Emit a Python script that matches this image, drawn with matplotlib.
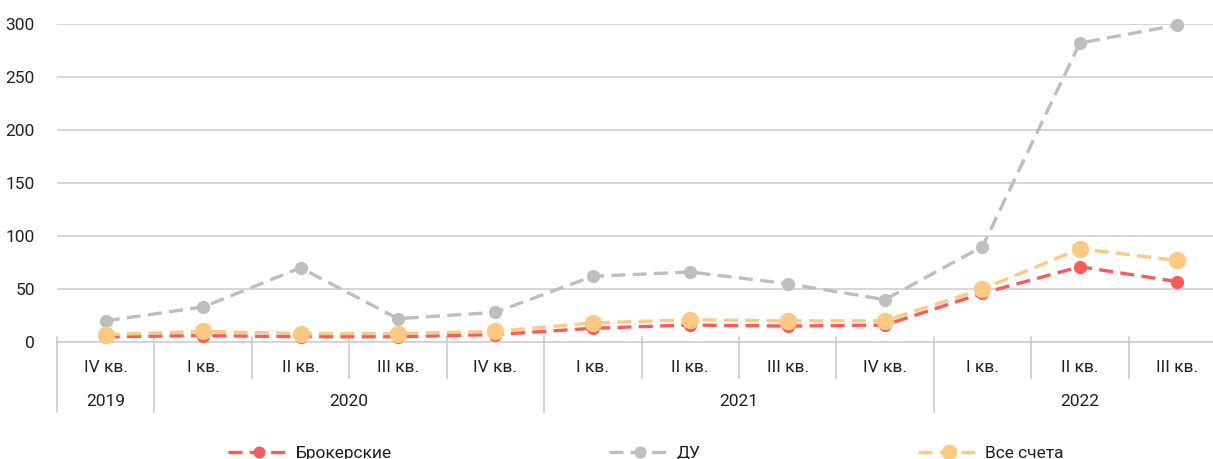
import matplotlib
matplotlib.use("Agg")
import matplotlib.pyplot as plt
from matplotlib import font_manager
from matplotlib.lines import Line2D

names = {f.name for f in font_manager.fontManager.ttflist}
fam = "Liberation Sans Narrow" if "Liberation Sans Narrow" in names else "Roboto"
plt.rcParams['font.family'] = [fam, 'DejaVu Sans']

quarters = ["IV кв.", "I кв.", "II кв.", "III кв.", "IV кв.",
            "I кв.", "II кв.", "III кв.", "IV кв.",
            "I кв.", "II кв.", "III кв."]
years = ["2019", "2020", "2021", "2022"]
year_counts = [1, 4, 4, 3]

broker = [5, 6, 5, 5, 7, 13, 16, 15, 16, 46, 71, 57]
du = [20, 33, 70, 22, 28, 62, 66, 55, 40, 90, 282, 299]
total = [7, 10, 8, 8, 10, 18, 21, 20, 20, 50, 88, 77]

series_names = ["Брокерские", "ДУ", "Все счета"]
colors = ["#FF5A5A", "#BEBEBE", "#FFC982"]

W, H = 1213, 459
fig = plt.figure(figsize=(W/100, H/100), dpi=100)
ax = fig.add_axes([57/W, (H-342)/H, (1226-57)/W, 318/H])

x = list(range(len(quarters)))
handles = []
for vals, name, c, ms in zip([broker, du, total], series_names, colors, [8.5, 8.5, 11.5]):
    l, = ax.plot(x, vals, color=c, lw=2.4, dashes=(4.2, 2.2), marker='o', ms=ms,
                 mec=c, mfc=c, clip_on=False, label=name, zorder=3)
    handles.append(l)

ax.set_xlim(-0.5, len(quarters) - 0.5)
ax.set_ylim(0, 300)
ax.set_yticks(range(0, 301, 50))
ax.tick_params(axis='y', length=0, pad=16, labelsize=12.5, labelcolor='#222222')
ax.set_xticks([])
ax.grid(axis='y', color='#D0D0D0', lw=1.2)
ax.set_axisbelow(True)
for s in ax.spines.values():
    s.set_visible(False)

trans = ax.get_xaxis_transform()
for i, q in enumerate(quarters):
    ax.text(i, -0.08, q, transform=trans, ha='center', va='center',
            fontsize=12.5, color='#222222')
start = 0
bounds = [-0.5]
for y, n in zip(years, year_counts):
    ax.text(start + (n - 1) / 2, -0.186, y, transform=trans, ha='center',
            va='center', fontsize=12.5, color='#222222')
    start += n
    bounds.append(start - 0.5)
for i in range(len(quarters) + 1):
    b = i - 0.5
    y0 = -0.22 if b in bounds else -0.113
    ax.add_line(Line2D([b, b], [0.016, y0], transform=trans, color='#C8C8C8',
                       lw=1.1, clip_on=False))
ax.add_line(Line2D([-0.5, len(quarters) - 0.5], [0, 0], transform=trans,
                   color='#D0D0D0', lw=1.2, clip_on=False, zorder=1))

fig.legend(handles=handles, loc='center', bbox_to_anchor=(646/W, 1 - 453/H),
           ncol=3, frameon=False, fontsize=12.5, columnspacing=12.5,
           handlelength=3.6, handletextpad=0.3, labelcolor='#222222',
           markerscale=0.9)

fig.savefig("out.png", dpi=100)
